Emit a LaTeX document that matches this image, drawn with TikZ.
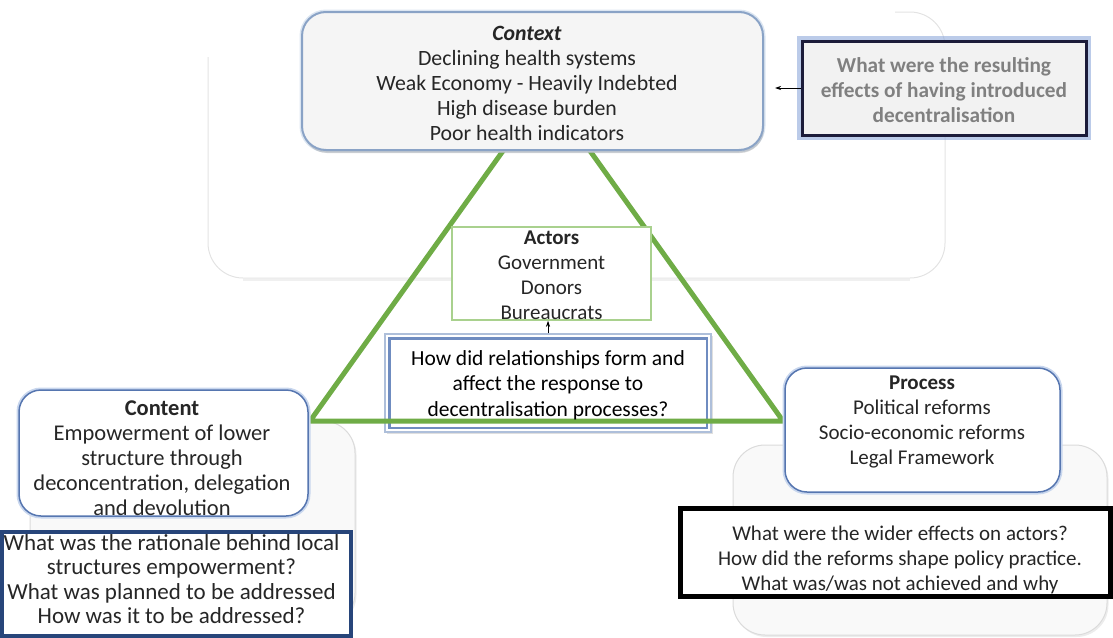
\documentclass[tikz,border=0pt]{standalone}
\usepackage{fontspec}
\setmainfont{Carlito}
\usetikzlibrary{shadows,arrows.meta}
\definecolor{tri}{HTML}{6FAC46}
\definecolor{ctxborder}{HTML}{8AA3C6}
\definecolor{ctxglow}{HTML}{DCE6F2}
\definecolor{blueborder}{HTML}{5676B0}
\definecolor{blueglow}{HTML}{C9D7EE}
\definecolor{navy}{HTML}{27457A}
\definecolor{qtopborder}{HTML}{1C1C3A}
\definecolor{qtopglow}{HTML}{8EA9DB}
\definecolor{relouter}{HTML}{AEBFDA}
\definecolor{relinner}{HTML}{6F8CC0}
\definecolor{actgreen}{HTML}{A9D18E}
\definecolor{txtgray}{HTML}{262626}
\begin{document}
\begin{tikzpicture}[x=1pt,y=-1pt,
  txt/.style={font=\fontsize{21}{25}\selectfont, align=center, inner sep=0pt, text=txtgray},
  roundbox/.style={rounded corners=22pt, fill=white, draw=blueborder, line width=1.5pt,
    preaction={draw=blueglow, line width=5pt}, inner sep=0pt},
  plainbox/.style={inner sep=0pt},
  bgbox/.style={rounded corners=32pt, draw=gray!28, line width=1pt, fill=gray!5,
    drop shadow={opacity=0.15, shadow xshift=1.5pt, shadow yshift=-2pt}},
  thinarrow/.style={-{Stealth[length=6pt,width=4pt]}, line width=0.7pt, black}
]
\useasboundingbox (0,0) rectangle (1113,637);

% --- large background frame behind the context area
\draw[gray!22, line width=1pt] (208,57) -- (208,243)
  arc[start angle=180, end angle=90, radius=35] -- (910,278)
  arc[start angle=90, end angle=0, radius=35] -- (945,47)
  arc[start angle=0, end angle=-90, radius=35] -- (895,12);
\draw[gray!12, line width=2pt] (243,280) -- (910,280);

% --- lower background frames
\node[bgbox, plainbox, minimum width=325pt, minimum height=204pt] (bgleft) at (192.5,523) {};
\node[bgbox, plainbox, minimum width=374pt, minimum height=190pt] (bgright) at (920,540) {};

% --- question about relationships
\node[plainbox, fill=white, draw=relouter, line width=1.5pt, minimum width=326pt, minimum height=98pt,
  drop shadow={opacity=0.25, shadow xshift=1.5pt, shadow yshift=-2pt}] (rel) at (548,383) {};
\draw[relinner, line width=2.5pt] ([shift={(5,5)}]rel.north west) rectangle ([shift={(-5,-5)}]rel.south east);

% --- triangle
\coordinate (apex) at (546.5,90);
\coordinate (tl) at (310,421);
\coordinate (tr) at (783,421);
\draw[tri, line width=5pt, line join=miter] (apex) -- (tl) -- (tr) -- cycle;

\node[txt, font=\fontsize{21.5}{25.5}\selectfont, text=black] (reltext) at (548,385) {How did relationships form and\\affect the response to\\decentralisation processes?};

% --- actors
\node[plainbox, fill=white, draw=actgreen, line width=1.5pt, minimum width=199pt, minimum height=93pt] (actorsbox) at (551.5,273.5) {};
\node[txt] (actors) at (551.5,275) {\textbf{Actors}\\Government\\Donors\\Bureaucrats};
\draw[thinarrow] (rel.north) -- (rel.north |- actorsbox.south);

% --- context
\node[rounded corners=24pt, fill=black!4, draw=ctxborder, line width=2pt, inner sep=0pt,
  preaction={draw=ctxglow, line width=5pt},
  drop shadow={opacity=0.3, shadow xshift=1pt, shadow yshift=-3pt},
  minimum width=461pt, minimum height=138pt] (ctx) at (532.5,81) {};
\node[txt, font=\fontsize{21.8}{25.2}\selectfont] (ctxtext) at (527,83.5)
  {\textbf{\textit{Context}}\\Declining health systems\\Weak Economy - Heavily Indebted\\High disease burden\\Poor health indicators};

% --- top right question
\node[plainbox, fill=black!5, draw=qtopborder, line width=3pt,
  preaction={draw=qtopglow, line width=10pt, opacity=0.6},
  minimum width=284pt, minimum height=94pt] (qtop) at (944,88) {};
\node[txt, font=\fontsize{21.3}{25}\selectfont\bfseries, text=black!50] (qtoptext) at (944,90)
  {What were the resulting\\effects of having introduced\\decentralisation};
\coordinate (qtip) at (775,88);
\draw[thinarrow] (qtop.west) -- (qtip);

% --- content
\node[roundbox, minimum width=289pt, minimum height=126pt] (contentbox) at (163.5,453) {};
\node[txt, font=\fontsize{22.5}{25}\selectfont] (content) at (162,458) {\textbf{Content}\\Empowerment of lower\\structure through\\deconcentration, delegation\\and devolution};

% --- process
\node[roundbox, minimum width=275pt, minimum height=124pt] (processbox) at (922.5,430) {};
\node[txt] (process) at (922,422) {\textbf{Process}\\Political reforms\\Socio-economic reforms\\Legal Framework};

% --- left question
\node[plainbox, fill=white, draw=navy, line width=3.5pt, minimum width=349pt, minimum height=104pt] (leftqbox) at (176.5,584) {};
\node[txt, font=\fontsize{23}{24.5}\selectfont] (leftq) at (171.5,579) {What was the rationale behind local\\structures empowerment?\\What was planned to be addressed\\How was it to be addressed?};

% --- right question
\node[plainbox, fill=white, draw=black, line width=5pt, minimum width=430pt, minimum height=88pt] (rightqbox) at (895,552) {};
\node[txt] (rightq) at (900,560) {What were the wider effects on actors?\\How did the reforms shape policy practice.\\What was/was not achieved and why};
\end{tikzpicture}
\end{document}
